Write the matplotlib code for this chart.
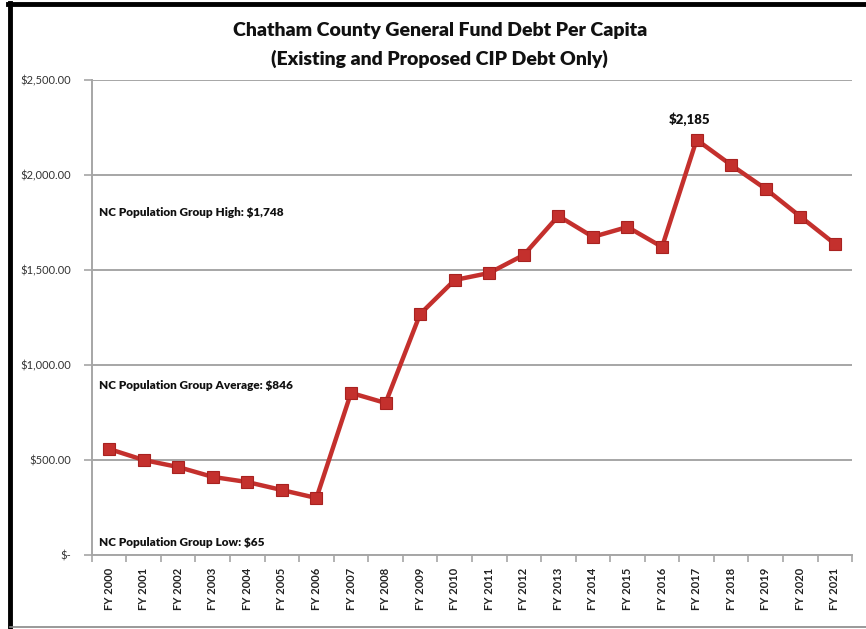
import matplotlib
matplotlib.use("Agg")
import matplotlib.pyplot as plt
from matplotlib.lines import Line2D
import numpy as np

# data
years = [f"FY {y}" for y in range(2000, 2022)]
debt_per_capita = [558, 500, 463, 411, 384, 342, 300, 853, 800, 1268, 1447,
                   1484, 1579, 1784, 1674, 1726, 1621, 2185, 2052, 1926, 1781, 1637]
y_ticks = [0, 500, 1000, 1500, 2000, 2500]
y_tick_labels = ["$-", "$500.00", "$1,000.00", "$1,500.00", "$2,000.00", "$2,500.00"]
group_labels = ["NC Population Group High: $1,748",
                "NC Population Group Average: $846",
                "NC Population Group Low: $65"]
group_label_y = [1800, 890, 65]

plt.rcParams["font.family"] = ["Lato", "DejaVu Sans"]

fig = plt.figure(figsize=(8.66, 6.29), dpi=100)
ax = fig.add_axes([0.106, 0.1176, 0.878, 0.7554])

x = np.arange(len(years))
ax.plot(x, debt_per_capita, color="#c4302d", lw=3.2, marker="s", ms=8.5,
        mfc="#c4302d", mec="#a82220", mew=0.8, zorder=3)

ax.set_xlim(-0.5, len(years) - 0.5)
ax.set_ylim(0, 2500)
ax.set_yticks(y_ticks)
ax.set_yticklabels(y_tick_labels, fontsize=8, color="#333333")
ax.yaxis.grid(True, color="#a6a6a6", lw=1.4)
ax.set_axisbelow(True)

ax.set_xticks(x)
ax.set_xticklabels(years, rotation=90, fontsize=8, fontweight="bold", color="#222222")
ax.set_xticks(np.arange(-0.5, len(years)), minor=True)
ax.tick_params(axis="x", which="major", length=0, pad=9)
ax.tick_params(axis="x", which="minor", length=5, color="#a6a6a6", width=1.2)
ax.tick_params(axis="y", length=6, color="#a6a6a6", width=1.2, pad=9)

for side in ["top", "right"]:
    ax.spines[side].set_visible(False)
for side in ["left", "bottom"]:
    ax.spines[side].set_color("#a6a6a6")
    ax.spines[side].set_linewidth(1.4)

for lab, yv in zip(group_labels, group_label_y):
    ax.text(-0.3, yv, lab, fontsize=8.5, fontweight="heavy", va="center", ha="left",
            color="#111111")

imax = int(np.argmax(debt_per_capita))
ax.annotate(f"${debt_per_capita[imax]:,}", xy=(x[imax], debt_per_capita[imax]),
            xytext=(-5, 10), textcoords="offset points", ha="center", va="bottom",
            fontsize=9.5, fontweight="heavy", color="#111111")

fig.text(0.508, 0.951, "Chatham County General Fund Debt Per Capita", ha="center",
         va="center", fontsize=14, fontweight="heavy", color="#111111")
fig.text(0.508, 0.906, "(Existing and Proposed CIP Debt Only)", ha="center",
         va="center", fontsize=14, fontweight="heavy", color="#111111")

# chart frame: heavy black top/left, grey bottom
fig.add_artist(Line2D([0.011, 0.011], [0.0, 0.995], transform=fig.transFigure,
                      color="black", lw=3.5))
fig.add_artist(Line2D([0.009, 1.0], [0.993, 0.993], transform=fig.transFigure,
                      color="black", lw=3.5))
fig.add_artist(Line2D([0.011, 1.0], [0.003, 0.003], transform=fig.transFigure,
                      color="#888888", lw=1.2))

fig.savefig("out.png", dpi=100)
